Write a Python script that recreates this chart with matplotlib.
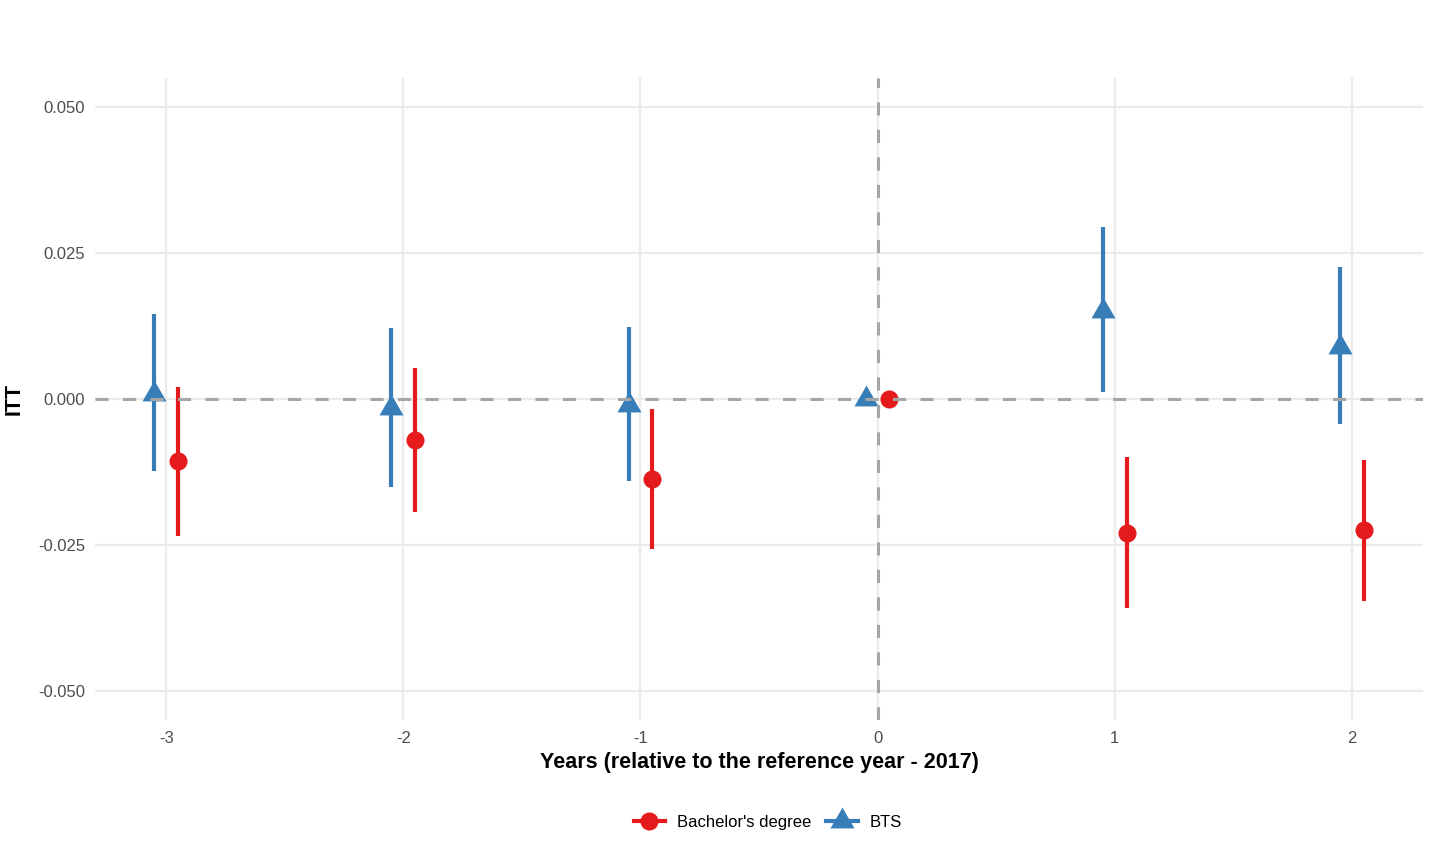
import numpy as np
import matplotlib
matplotlib.use("Agg")
import matplotlib.pyplot as plt
from matplotlib.lines import Line2D

plt.rcParams['font.family'] = ['Liberation Sans', 'DejaVu Sans']

# Datos
years = np.array([-3, -2, -1, 0, 1, 2])

bach_est = np.array([-0.0106, -0.0071, -0.0137, 0.0, -0.0229, -0.0224])
bach_low = np.array([-0.0235, -0.0194, -0.0257, 0.0, -0.0358, -0.0346])
bach_high = np.array([0.0021, 0.0053, -0.0017, 0.0, -0.0099, -0.0104])

bts_est = np.array([0.0009, -0.0016, -0.0010, 0.0, 0.0151, 0.0089])
bts_low = np.array([-0.0123, -0.0150, -0.0140, 0.0, 0.0012, -0.0043])
bts_high = np.array([0.0146, 0.0122, 0.0124, 0.0, 0.0295, 0.0226])

labels = ["Bachelor's degree", "BTS"]
red = '#E41A1C'
blue = '#377EB8'

# triángulo centrado en su centroide (como pch 17 en R)
tri = [(-1, -0.577), (1, -0.577), (0, 1.155)]

fig = plt.figure(figsize=(14.35, 8.61), dpi=100)
ax = fig.add_axes([0.0662, 0.1638, 0.9254, 0.7456])

dodge = 0.05
ax.vlines(years - dodge, bts_low, bts_high, color=blue, lw=3, zorder=3)
ax.plot(years - dodge, bts_est, linestyle='none', marker=tri, ms=20,
        color=blue, mec='none', zorder=4)
ax.vlines(years + dodge, bach_low, bach_high, color=red, lw=3, zorder=3)
ax.plot(years + dodge, bach_est, linestyle='none', marker='o', ms=13,
        color=red, mec='none', zorder=4)

# líneas de referencia
ax.axhline(0, color='#A6A6A6', lw=2.2, ls=(0, (4.3, 4.7)), zorder=5)
ax.axvline(0, color='#A6A6A6', lw=2.2, ls=(0, (4.3, 4.7)), zorder=5)

ax.set_xlim(-3.3, 2.3)
ax.set_ylim(-0.055, 0.055)
ax.set_xticks(years)
ax.set_xticklabels([str(y) for y in years])
ax.set_yticks([-0.05, -0.025, 0.0, 0.025, 0.05])
ax.set_yticklabels(['-0.050', '-0.025', '0.000', '0.025', '0.050'])

ax.grid(True, color='#EBEBEB', lw=1.6, zorder=0)
ax.set_axisbelow(True)
for s in ax.spines.values():
    s.set_visible(False)
ax.tick_params(length=0, labelsize=12, labelcolor='#4D4D4D')
ax.tick_params(axis='x', pad=8)
ax.tick_params(axis='y', pad=7)

ax.set_xlabel('Years (relative to the reference year - 2017)', fontsize=15.5,
              fontweight='bold', labelpad=4)
ax.set_ylabel('ITT', fontsize=15.5, fontweight='bold', labelpad=10)

handles = [
    Line2D([], [], color=red, lw=3, marker='o', ms=13, mec='none'),
    Line2D([], [], color=blue, lw=3, marker=tri, ms=20, mec='none'),
]
fig.legend(handles, labels, loc='center', bbox_to_anchor=(0.535, 0.045),
           ncol=2, frameon=False, fontsize=12, handlelength=1.9,
           columnspacing=0.9, handletextpad=0.7)

fig.savefig('out.png', dpi=100, facecolor='white')
